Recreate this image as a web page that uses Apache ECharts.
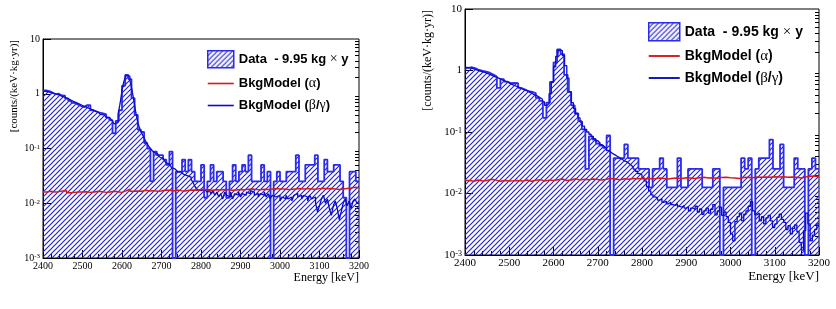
<!DOCTYPE html>
<html><head><meta charset="utf-8">
<script src="https://cdn.jsdelivr.net/npm/echarts@6/dist/echarts.min.js"></script>
<style>html,body{margin:0;padding:0;background:#fff}#c{width:836px;height:309px}</style>
</head><body><div id="c"></div>
<script>
// ---------- data ----------
const E_MIN = 2400, E_MAX = 3200;
const Y_MIN = 0.001, Y_MAX = 10;
const DATA_BIN = 8, BG_BIN = 5, ALPHA_BIN = 10;
const xTickStep = 100;
const legendNames = ['Data  - 9.95 kg × y', 'BkgModel (α)', 'BkgModel (β/γ)'];
const yTitle = '[counts/(keV·kg·yr)]';
const xTitle = 'Energy [keV]';

// left panel: measured spectrum, 8 keV bins from 2400
const dataLeft = [
 1.15,1.12,1.05,0.98,1.0,0.93,0.92,0.82,0.74,0.68,
 0.64,0.6,0.57,0.62,0.62,0.5,0.47,0.45,0.44,0.42,
 0.37,0.33,0.19,0.32,0.5,1.4,2.2,1.85,0.83,0.41,
 0.22,0.2,0.126,0.1,0.0251,0.088,0.0754,0.0754,0.0628,0.0503,
 0.088,0,0.0377,0.0377,0.0628,0.0377,0.0628,0.0377,0.0251,0.0251,
 0.0503,0.0126,0.0251,0.0503,0.0251,0.0377,0.0377,0.0251,0.0126,0.0251,
 0.0503,0.0251,0.0377,0.0503,0.0377,0.0754,0.0251,0.0251,0.0251,0.0503,
 0.0251,0.0377,0,0.0251,0.0377,0.0251,0.0251,0.0377,0.0377,0.0377,
 0.0754,0.0251,0.0251,0.0503,0.0503,0.0503,0.0754,0.0251,0.0251,0.0628,
 0.0377,0.0377,0.0503,0.0503,0.0251,0.0126,0,0.0377,0.0377,0.0251
];
// left panel: beta/gamma model, 5 keV bins
const bgLeft = [
 1.12,1.1,1.08,1.05,1.02,1.0,0.97,0.95,0.92,0.89,
 0.86,0.83,0.8,0.77,0.74,0.71,0.68,0.66,0.63,0.61,
 0.59,0.57,0.55,0.53,0.51,0.49,0.47,0.46,0.44,0.42,
 0.41,0.39,0.37,0.36,0.34,0.32,0.28,0.3,0.42,0.65,
 1.15,1.7,2.15,2.1,1.75,1.2,0.75,0.45,0.3,0.23,
 0.19,0.16,0.135,0.118,0.104,0.094,0.086,0.08,0.075,0.07,
 0.065,0.06,0.056,0.052,0.048,0.045,0.042,0.04,0.038,0.037,
 0.036,0.034,0.032,0.034,0.03,0.027,0.024,0.02,0.018,0.017,
 0.016,0.018,0.017,0.016,0.018,0.015,0.017,0.014,0.016,0.013,
 0.015,0.012,0.016,0.014,0.013,0.016,0.012,0.015,0.014,0.016,
 0.013,0.015,0.014,0.016,0.015,0.017,0.016,0.014,0.015,0.013,
 0.015,0.014,0.016,0.013,0.015,0.012,0.014,0.013,0.012,0.014,
 0.011,0.013,0.012,0.014,0.012,0.013,0.011,0.014,0.015,0.013,
 0.014,0.012,0.014,0.013,0.011,0.014,0.012,0.013,0.01,0.007,
 0.009,0.012,0.014,0.01,0.012,0.008,0.006,0.009,0.011,0.008,
 0.005,0.007,0.01,0.012,0.009,0.011,0.008,0.011,0.012,0.01
];
// left panel: alpha model, 10 keV bins
const alphaLeft = [
 0.016,0.0165,0.016,0.0163,0.0168,0.017,0.0155,0.0158,0.016,0.016,
 0.0162,0.0158,0.016,0.0165,0.0163,0.0158,0.016,0.0166,0.0162,0.0158,
 0.0168,0.018,0.0165,0.0168,0.0166,0.0172,0.0168,0.017,0.0165,0.0168,
 0.0175,0.0172,0.0168,0.0175,0.017,0.0168,0.0172,0.0175,0.0172,0.0178,
 0.0178,0.0175,0.0172,0.0176,0.0174,0.0178,0.0176,0.0172,0.0175,0.0178,
 0.0176,0.018,0.0182,0.0178,0.0176,0.018,0.0178,0.0182,0.0185,0.0183,
 0.0182,0.0178,0.018,0.0183,0.0186,0.0182,0.0185,0.0183,0.018,0.0185,
 0.0188,0.0184,0.0186,0.0183,0.0178,0.0182,0.0186,0.019,0.0195,0.0192
];

// right panel
const dataRight = [
 1.1,1.13,1.08,1.02,0.99,0.96,0.92,0.86,0.8,0.52,
 0.72,0.66,0.62,0.63,0.62,0.52,0.49,0.46,0.45,0.43,
 0.36,0.32,0.17,0.3,0.65,1.35,2.2,1.85,0.85,0.45,
 0.27,0.2,0.15,0.11,0.0251,0.085,0.0754,0.065,0.06,0.055,
 0.088,0,0.0377,0.0377,0.0377,0.0628,0.0377,0.0377,0.0377,0.0251,
 0.0251,0.0251,0.0126,0.0251,0.0251,0.0377,0.0251,0.0126,0.0126,0.0126,
 0.0377,0.0126,0.0126,0.0251,0.0251,0.0251,0.0251,0.0126,0.0126,0.0126,
 0.0251,0.0251,0,0.0126,0.0126,0.0126,0.0126,0.0126,0.0377,0.0251,
 0.0377,0,0.0251,0.0377,0.0377,0.0377,0.0754,0.0251,0.0251,0.0628,
 0.0126,0.0126,0.0126,0.0377,0.0251,0.0251,0,0.0251,0.0377,0.0251
];
const bgRight = [
 1.12,1.1,1.09,1.06,1.03,1.0,0.98,0.95,0.93,0.9,
 0.87,0.84,0.81,0.78,0.76,0.73,0.7,0.68,0.65,0.63,
 0.6,0.58,0.56,0.54,0.52,0.5,0.48,0.47,0.45,0.43,
 0.41,0.4,0.38,0.36,0.34,0.31,0.27,0.29,0.42,0.65,
 1.15,1.7,2.15,2.1,1.75,1.2,0.75,0.45,0.3,0.24,
 0.2,0.17,0.145,0.125,0.11,0.1,0.092,0.085,0.078,0.072,
 0.067,0.062,0.058,0.054,0.05,0.047,0.044,0.042,0.04,0.038,
 0.036,0.034,0.033,0.031,0.029,0.027,0.025,0.023,0.021,0.02,
 0.018,0.016,0.013,0.011,0.0095,0.0088,0.0085,0.0078,0.0082,0.0072,
 0.0075,0.0068,0.0072,0.0066,0.0064,0.0068,0.0062,0.006,0.0064,0.0058,
 0.0061,0.0052,0.0058,0.0055,0.0062,0.005,0.0056,0.0046,0.0052,0.0058,
 0.0048,0.0055,0.0066,0.0045,0.0052,0.006,0.0044,0.005,0.0042,0.0034,
 0.0022,0.0017,0.0035,0.0042,0.0048,0.0036,0.0046,0.0052,0.0062,0.0074,
 0.0052,0.0045,0.0048,0.0036,0.0042,0.0032,0.004,0.0044,0.0036,0.0028,
 0.0032,0.0041,0.0046,0.0038,0.0034,0.0026,0.003,0.0022,0.0027,0.0031,
 0.0024,0.0016,0.0012,0.0025,0.0048,0.0032,0.0017,0.0021,0.0026,0.0032
];
const alphaRight = [
 0.0162,0.0158,0.0166,0.016,0.0163,0.017,0.0165,0.0158,0.0162,0.016,
 0.0161,0.0163,0.0159,0.0166,0.0158,0.0164,0.0168,0.016,0.0165,0.0163,
 0.0168,0.0172,0.0163,0.0166,0.0174,0.0165,0.017,0.0167,0.0172,0.0169,
 0.0166,0.017,0.0175,0.0172,0.0168,0.0174,0.0171,0.0176,0.0173,0.0175,
 0.0172,0.0176,0.0174,0.0178,0.0175,0.0172,0.0177,0.0179,0.0176,0.018,
 0.0178,0.0175,0.0181,0.0183,0.0178,0.018,0.0177,0.0182,0.0184,0.0181,
 0.0179,0.0176,0.0182,0.0184,0.0181,0.0185,0.0183,0.0186,0.0184,0.0187,
 0.0185,0.0188,0.0184,0.0186,0.0183,0.0178,0.0186,0.019,0.0192,0.019
];

// ---------- helpers ----------
function stepPoints(vals, start, width) {
  const v = vals.map(x => (x > 0 ? x : Y_MIN));
  const pts = v.map((y, i) => [start + i * width, y]);
  pts.push([start + vals.length * width, v[v.length - 1]]);
  return pts;
}
function hatch(size, color, lw) {
  const c = document.createElement('canvas');
  c.width = size; c.height = size;
  const g = c.getContext('2d');
  g.strokeStyle = color; g.lineWidth = lw;
  g.beginPath();
  g.moveTo(-1, size + 1); g.lineTo(size + 1, -1);
  g.moveTo(-1, 1); g.lineTo(1, -1);
  g.moveTo(size - 1, size + 1); g.lineTo(size + 1, size - 1);
  g.stroke();
  return { image: c, repeat: 'repeat' };
}
const minorLogs = [];
for (let d = -3; d < 1; d++) for (let k = 2; k <= 9; k++) minorLogs.push(Math.log10(k) + d);

const BLUE_DATA = '#2b2bf0', BLUE_MODEL = '#0c0cc4', RED = '#d81818';
const patL = hatch(5, '#2424d8', 1.2);
const patR = hatch(5, '#2424d8', 1.2);

const panels = [
  { grid: { left: 43, top: 39, width: 316, height: 219 }, data: dataLeft, bg: bgLeft, alpha: alphaLeft,
    pat: patL, fs: 10, leg: { left: 207, top: 50, w: 26, h: 17, gap: 8, fs: 13 },
    ytitle: { x: 14, y: 40, fs: 11 }, xtitle: { x: 359, y: 278, fs: 12 } },
  { grid: { left: 465, top: 9, width: 354, height: 246 }, data: dataRight, bg: bgRight, alpha: alphaRight,
    pat: patR, fs: 11, leg: { left: 648, top: 22, w: 31, h: 18, gap: 7, fs: 14 },
    ytitle: { x: 428, y: 10, fs: 12 }, xtitle: { x: 819, y: 277, fs: 13 } }
];

const grids = [], xAxes = [], yAxes = [], series = [], legends = [], graphics = [];
const richName = {};
richName[legendNames[0]] = '{b|Data  - 9.95 kg }{s|×}{b| y}';
richName[legendNames[1]] = '{b|BkgModel (}{s|α}{b|)}';
richName[legendNames[2]] = '{b|BkgModel (}{s|β}{b|/}{s|γ}{b|)}';

panels.forEach((p, i) => {
  grids.push(Object.assign({ show: true, borderColor: '#000', borderWidth: 1, backgroundColor: 'transparent' }, p.grid));
  xAxes.push({
    type: 'value', gridIndex: i, min: E_MIN, max: E_MAX, interval: xTickStep,
    axisLine: { show: true, onZero: false, lineStyle: { color: '#000', width: 1 } },
    axisTick: { show: true, inside: true, length: 8, lineStyle: { color: '#000' } },
    minorTick: { show: true, splitNumber: 5, length: 4, lineStyle: { color: '#000' } },
    axisLabel: { color: '#000', fontFamily: 'Liberation Serif', fontSize: p.fs, margin: 3,
                 showMinLabel: true, showMaxLabel: true, formatter: v => String(v) },
    splitLine: { show: false }, minorSplitLine: { show: false }
  });
  yAxes.push({
    type: 'log', logBase: 10, gridIndex: i, min: Y_MIN, max: Y_MAX,
    axisLine: { show: true, lineStyle: { color: '#000', width: 1 } },
    axisTick: { show: true, inside: true, length: 8, lineStyle: { color: '#000' } },
    axisLabel: {
      color: '#000', margin: 3, showMinLabel: true, showMaxLabel: true,
      formatter: v => { const e = Math.round(Math.log10(v)); if (e === 0) return '{b|1}'; if (e === 1) return '{b|10}'; return '{b|10}{s|' + e + '}'; },
      rich: { b: { fontFamily: 'Liberation Serif', fontSize: p.fs, color: '#000' },
              s: { fontFamily: 'Liberation Serif', fontSize: p.fs - 3, color: '#000', verticalAlign: 'top' } }
    },
    splitLine: { show: false }
  });
  yAxes.push({
    type: 'value', gridIndex: i, min: Math.log10(Y_MIN), max: Math.log10(Y_MAX),
    axisLine: { show: false }, axisLabel: { show: false }, splitLine: { show: false },
    axisTick: { show: true, inside: true, length: 4, customValues: minorLogs, lineStyle: { color: '#000' } }
  });
  series.push({
    name: legendNames[0], type: 'line', xAxisIndex: i, yAxisIndex: 2 * i, step: 'end', symbol: 'none',
    data: stepPoints(p.data, E_MIN, DATA_BIN), z: 2,
    lineStyle: { color: BLUE_DATA, width: 1.8 }, itemStyle: { color: BLUE_DATA },
    areaStyle: { color: p.pat, opacity: 1, origin: 'start' }
  });
  series.push({
    name: legendNames[1], type: 'line', xAxisIndex: i, yAxisIndex: 2 * i, step: 'end', symbol: 'none',
    data: stepPoints(p.alpha, E_MIN, ALPHA_BIN), z: 4,
    lineStyle: { color: RED, width: 1.5 }, itemStyle: { color: RED }
  });
  series.push({
    name: legendNames[2], type: 'line', xAxisIndex: i, yAxisIndex: 2 * i, step: 'end', symbol: 'none',
    data: stepPoints(p.bg, E_MIN, BG_BIN), z: 3,
    lineStyle: { color: BLUE_MODEL, width: 1.3 }, itemStyle: { color: BLUE_MODEL }
  });
  const lineIcon = 'path://M0,0L26,0L26,1.6L0,1.6Z';
  legends.push({
    orient: 'vertical', left: p.leg.left, top: p.leg.top, itemWidth: p.leg.w, itemHeight: p.leg.h,
    itemGap: p.leg.gap, padding: 0, selectedMode: false,
    data: [
      { name: legendNames[0], icon: 'rect', itemStyle: { color: p.pat, borderColor: BLUE_DATA, borderWidth: 1.5 } },
      { name: legendNames[1], icon: lineIcon, itemStyle: { color: RED, borderWidth: 0 } },
      { name: legendNames[2], icon: lineIcon, itemStyle: { color: BLUE_MODEL, borderWidth: 0 } }
    ],
    formatter: n => richName[n],
    textStyle: {
      color: '#000', fontSize: p.leg.fs,
      rich: { b: { fontFamily: 'Liberation Sans', fontWeight: 'bold', fontSize: p.leg.fs, color: '#000' },
              s: { fontFamily: 'Liberation Serif', fontWeight: 'normal', fontSize: p.leg.fs + 1, color: '#000' } }
    }
  });
  graphics.push({
    type: 'text', x: p.ytitle.x, y: p.ytitle.y, rotation: Math.PI / 2,
    style: { text: yTitle, fill: '#000', font: p.ytitle.fs + 'px "Liberation Serif"',
             textAlign: 'right', textVerticalAlign: 'middle', align: 'right', verticalAlign: 'middle' }
  });
  graphics.push({
    type: 'text', x: p.xtitle.x, y: p.xtitle.y,
    style: { text: xTitle, fill: '#000', font: p.xtitle.fs + 'px "Liberation Serif"',
             textAlign: 'right', textVerticalAlign: 'middle', align: 'right', verticalAlign: 'middle' }
  });
});

const chart = echarts.init(document.getElementById('c'), null, { renderer: 'canvas' });
chart.setOption({
  animation: false,
  backgroundColor: '#fff',
  grid: grids, xAxis: xAxes, yAxis: yAxes, series: series, legend: legends, graphic: graphics
});
</script>
</body></html>
